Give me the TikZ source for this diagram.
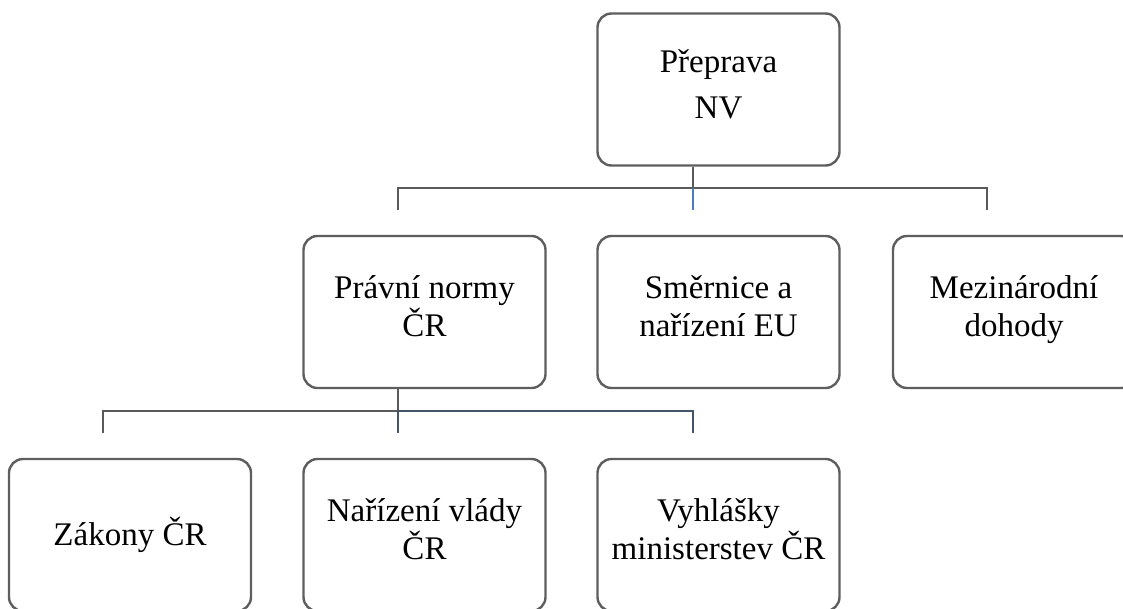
\documentclass[tikz,border=0pt]{standalone}
\usepackage{fontspec}
\setmainfont{Liberation Serif}
\usepackage{xcolor}

\definecolor{boxline}{HTML}{5E5E5E}
\definecolor{conn}{HTML}{5A5A5A}
\definecolor{accent}{HTML}{4A7EBB}
\definecolor{navy}{HTML}{44546A}

\begin{document}
\begin{tikzpicture}[
    x=1pt, y=-1pt,
    font=\fontsize{33}{38}\selectfont,
    box/.style={
        rectangle,
        rounded corners=14pt,
        draw=boxline,
        line width=2.4pt,
        minimum width=242pt,
        minimum height=152pt,
        align=center,
        inner sep=0pt,
        execute at begin node=\rule{0pt}{33pt},
        execute at end node=\strut
    },
    link/.style={draw=conn, line width=2.6pt},
    linkblue/.style={draw=accent, line width=2.6pt},
    linknavy/.style={draw=navy, line width=2.6pt}
]
\clip (0,0) rectangle (1123,608);

% =========================================================
% Boxes
% =========================================================
\node[box] (top) at (718.5,89.5) {P\v{r}eprava\\[8pt]NV};

\node[box] (pravni) at (424.5,312) {Právní normy\\\v{C}R};
\node[box] (smernice) at (718.5,312) {Sm\v{e}rnice a\\na\v{r}ízení EU};
\node[box] (mezinar) at (1014,312) {Mezinárodní\\dohody};

\node[box] (zakony) at (130,535) {Zákony \v{C}R};
\node[box] (narizeni) at (424.5,535) {Na\v{r}ízení vlády\\\v{C}R};
\node[box] (vyhlasky) at (718.5,535) {Vyhlášky\\ministerstev \v{C}R};

% =========================================================
% Connectors
% =========================================================

% first level
\coordinate (j0) at (693,188);
\coordinate (d1) at (398,210);
\coordinate (d3) at (987,210);
\draw[link] (j0 |- top.south) -- (j0);
\draw[link] (d1) |- (j0) -| (d3);
\draw[linkblue] (j0) -- (j0 |- d1);

% second level
\coordinate (j1) at (398,411);
\coordinate (e1) at (103,433);
\coordinate (e3) at (693,433);
\draw[link] (j1 |- pravni.south) -- (j1);
\draw[link] (j1) -| (e1);
\draw[linknavy] (j1 |- e1) -- (j1) -| (e3);

\end{tikzpicture}
\end{document}
